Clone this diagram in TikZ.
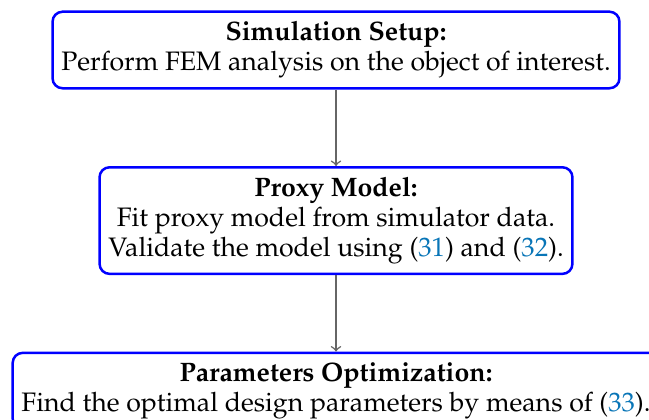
\documentclass[tikz,border=0pt]{standalone}
\IfFileExists{mathpazo.sty}
  {\usepackage[T1]{fontenc}\usepackage{mathpazo}}
  {\usepackage{fontspec}\setmainfont{Liberation Serif}}
\usetikzlibrary{positioning}
\definecolor{bluecite}{HTML}{0875B7}
\newcommand{\eqref}[1]{(\textcolor{bluecite}{#1})}

\begin{document}
\begin{tikzpicture}[
  node distance=30.6pt,
  stepbox/.style={draw=blue, line width=1pt, rounded corners=4pt, fill=white,
                  align=center, inner xsep=3.5pt, inner ysep=3.95pt,
                  font=\fontsize{10.68pt}{12pt}\selectfont},
  arr/.style={->, draw=black!60, line width=0.6pt}
]
  \clip (0,0) rectangle (259.6pt,-168pt);

  % Flow of the three stages
  \node[stepbox] (setup) at (134.4pt,-20pt)
    {\textbf{Simulation Setup:}\\ Perform FEM analysis on the object of interest.};
  \node[stepbox, below=of setup] (proxy)
    {\textbf{Proxy Model:}\\ Fit proxy model from simulator data.\\
     Validate the model using \eqref{31} and \eqref{32}.};
  \node[stepbox, below=of proxy] (optim)
    {\textbf{Parameters Optimization:}\\ Find the optimal design parameters by means of \eqref{33}.};

  \draw[arr] (setup) -- (proxy);
  \draw[arr] (proxy) -- (optim);
\end{tikzpicture}
\end{document}
